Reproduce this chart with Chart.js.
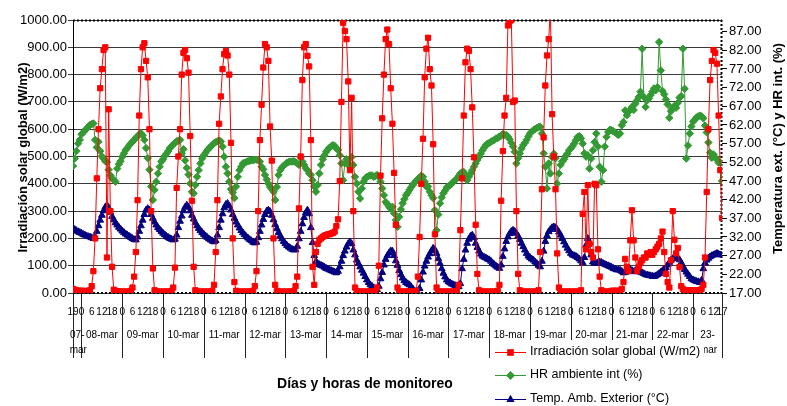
<!DOCTYPE html>
<html><head><meta charset="utf-8">
<script src="https://cdn.jsdelivr.net/npm/chart.js@4"></script>
<style>html,body{margin:0;padding:0;background:#fff}canvas{display:block}</style>
</head><body>
<canvas id="c" width="787" height="406"></canvas>
<script>
// ---- data (hourly, from 07-mar 19h to 23-mar 17h) ----
const days = ['07-mar','08-mar','09-mar','10-mar','11-mar','12-mar','13-mar','14-mar','15-mar','16-mar','17-mar','18-mar','19-mar','20-mar','21-mar','22-mar','23-mar'];
const firstHour = 19;
const rightTicks = [17,22,27,32,37,42,47,52,57,62,67,72,77,82,87];
const seriesNames = ['Irradiación solar global (W/m2)','HR ambiente int (%)','Temp. Amb. Exterior (°C)'];

const irradiacion = [
 15,12,10,8,8,
 8,8,6,6,8,10,25,80,200,420,600,750,820,890,900,130,673,300,96,12,8,6,6,5,
 5,5,5,5,5,8,20,60,150,340,650,820,900,915,850,790,600,300,90,10,6,5,5,5,
 5,5,5,5,5,8,20,93,385,500,600,800,880,890,860,807,575,338,96,10,5,5,5,5,
 5,5,5,5,5,8,30,150,340,620,720,820,875,887,870,800,550,200,40,8,5,5,5,5,
 5,5,5,5,5,8,25,80,300,560,690,826,912,900,850,610,485,200,30,8,5,5,5,5,
 5,5,5,5,5,8,25,60,310,500,780,900,912,869,830,560,96,30,150,180,195,200,205,210,
 212,215,215,218,220,225,245,270,410,700,990,960,930,775,450,715,300,20,8,5,5,5,5,5,
 5,5,5,5,5,8,20,100,430,640,800,930,965,912,750,620,440,250,20,5,5,5,5,5,
 5,5,5,5,5,8,60,205,400,565,790,895,935,820,760,545,215,20,5,5,5,5,5,5,
 5,5,5,5,5,8,30,230,420,650,845,895,887,820,680,497,250,70,10,5,5,5,5,5,
 5,5,5,5,5,8,30,338,520,650,715,980,995,1000,700,705,300,70,10,5,5,5,5,5,
 5,5,5,5,5,10,150,380,570,760,870,930,1040,655,500,380,145,20,5,5,5,5,5,5,
 5,5,5,5,5,5,10,290,370,160,395,180,150,130,400,395,160,60,10,5,5,5,5,5,
 8,8,8,8,8,8,15,40,125,96,80,193,303,193,130,80,96,110,120,130,130,145,140,150,
 140,150,160,170,180,200,225,150,70,40,20,120,300,195,145,165,95,25,15,10,10,10,10,10,
 10,10,10,10,10,15,30,130,370,600,780,850,890,880,840,650,450,275
];

const hrInt = [
 51,53,55,57,58,
 59.5,60,60.5,61,61.5,62,62.2,62.4,58,56,57.5,55,53.6,53,52.3,52,50,48.5,47.7,47.2,46.8,50.3,51.5,52.3,
 53.5,54.4,55.3,55.8,56.5,57,57.5,58,58.6,59,59.5,59.8,59.2,58,55.8,53.1,50,45.5,41.9,44.6,46.8,49,50.8,52.2,
 52.8,53.7,54.3,55,55.8,56.3,56.8,57.2,57.6,57.8,58,54.4,55.5,52.5,50.5,48.7,46.3,44.1,43.7,45.9,48.1,49.9,51.7,53,
 53.9,54.5,55.2,55.7,56.2,56.6,57.1,57.4,57.6,57.8,57.6,56.2,53.5,50.8,49,46.8,44.8,43.9,42.4,45.5,48.1,49.9,50.8,51.7,
 51.9,52.1,52.3,52.4,52.5,52.6,52.7,52.7,52.6,52.2,50.8,50.1,48.6,47.4,46.3,45.4,44.8,44.1,41.9,45.4,48.6,49.9,50.6,51.1,
 51.5,51.9,52.1,52.2,52.2,52.3,52,51.7,51.3,53.4,52.2,51.3,50.4,49.9,49,48.6,47.2,45.5,44.1,45.9,49,51.3,52.8,53.9,
 54.8,55.4,55.9,56.3,56.6,56.4,55.7,55.3,53.9,51.7,47.2,51.7,52.8,51.9,50.8,53.4,51.3,48.1,46.3,44.1,42.3,45,46.8,47.7,
 48.1,48.3,48.5,48.5,48.1,48.3,48.6,48.1,46.8,45,43.2,41.4,40.8,40.1,39.6,40.1,38.3,36.5,34.7,37.4,39.4,41,42.1,43.2,
 43.8,44.6,45.3,45.9,46.5,47,47.5,47.9,48.4,48.1,46.8,45.5,45.5,44.1,43.2,42.4,39.2,33.8,38,41,42.6,43.7,44.4,45.3,
 45.6,45.9,46.3,46.8,47.2,47.7,48.3,49,49.3,49.4,48.3,47.2,48.1,49,49.9,50.8,51.7,52.6,53.4,54.3,55.2,55.9,56.6,57,
 57.2,57.5,57.8,58,58.4,58.5,58.9,59.1,59.6,59.3,59.3,58.9,58.2,57.2,56.2,54.8,51.7,53.1,54.4,55.7,56.6,57.2,58,58.9,
 59.7,60.2,60.6,60.9,61.2,61.4,61.5,59.7,54.4,50.8,45,51.7,49,53.4,54.3,53.1,46.3,49,51.3,52.2,52.8,53.7,54.3,55.2,
 55.7,56.3,57,57.9,58.8,59,58.4,57,54.4,53.5,53.9,50.3,53,55.2,57.4,59.7,56.2,50.8,46.8,49.9,56.2,58.8,60.1,60.7,
 60.6,60.3,60,59.7,59.3,59.7,61.9,62.8,65.9,64.6,65.5,66,66.8,66,67.7,68.6,69.5,70.9,82.4,69.5,66.8,68.6,69.1,70,
 70.9,71.8,71.3,72.1,84.2,76.6,71.1,70.2,68.8,67.5,63.9,65.7,66.6,67.1,66.6,67.9,69.3,69.7,82.4,71.7,53,56.5,59.7,61.6,
 62.9,63.4,64,64.3,64.5,64.3,63.8,61.8,60,57.3,54.6,53.2,54.1,53.2,52.8,51.9,51.9,47
];

const tempExt = [
 34.3,34,33.7,33.4,33.2,
 33,32.7,32.5,32.3,32.1,32,31.8,31.6,32,33.5,35,36.5,37.8,39,40,40.5,39.8,38.6,37.5,36.6,35.8,35.2,34.6,34.1,
 33.6,33.2,32.8,32.5,32.2,31.9,31.6,31.3,31.2,32,33.5,35,36.5,38,39.2,39.6,39.2,38,37,36,35.2,34.5,34,33.5,
 33,32.6,32.2,31.9,31.6,31.4,31.2,31.4,32.5,34.5,36.2,37.6,39,40,40.5,40,39,37.8,36.8,35.8,35,34.3,33.7,33.2,
 32.7,32.3,31.9,31.5,31.2,30.9,30.7,31,32.5,34.5,36.5,38.2,39.8,40.7,41,40.3,39.2,38,37,36,35.2,34.4,33.7,33.1,
 32.6,32.1,31.7,31.3,31,30.6,30.4,30.6,31.8,33.5,35.2,36.7,38,38.9,39.2,38.8,37.8,36.6,35.3,34.2,33.2,32.3,31.5,30.8,
 30.2,29.7,29.3,29,28.7,28.5,28.6,29.5,31.5,33.5,35.5,37.2,38.5,39.2,38.2,34.5,30.5,27,25.4,24.9,24.6,24.4,24.2,23.9,
 23.6,23.4,23.2,23,22.8,22.6,22.4,22.8,24,25.5,27,28.2,29.3,30.2,30.7,30.2,28.5,27.2,25.8,24.9,24,23.1,22.3,21.4,
 20.5,19.8,19.2,18.8,18.4,18.1,17.9,18.8,20.8,22.5,24.5,26,27,27.7,28.3,28.2,27,25.6,24.4,23,21.9,21,20.3,19.8,
 19.5,19.2,18.7,18.1,17.6,17.1,17,18.2,20.5,22.6,24.2,25.5,26.6,27.5,28.3,29,28.6,27.6,26.2,24.9,23.5,22.3,21.3,20.5,
 20,19.7,19.4,19.2,19,18.8,18.7,19.5,23.5,26,28.5,30.3,31.4,32.2,32.5,31.8,30.3,29.2,28.2,27.4,26.9,26.6,26.4,26.1,
 25.9,25.5,25,24.6,24.2,23.9,23.6,24.5,26.8,28.8,30.8,32,32.9,33.5,33.8,33.5,33,32.2,31.3,30.3,29.4,28.5,27.6,26.9,
 26.5,26.1,25.8,25.3,24.9,24.4,24,25.5,28.2,30.8,32.3,33.4,34,34.5,34.7,34.5,34,33.3,32.5,31.6,30.7,29.8,29,28.3,
 27.6,27.2,27,26.8,26.5,26.1,25.6,25.1,26.5,29.8,31.6,30.5,27.2,25.3,25,24.9,25.1,25.3,25.2,24.9,24.7,24.5,24.3,24.1,
 23.9,23.6,23.4,23.2,23.2,23.1,22.8,22.4,22.5,22.8,23.1,23.3,23,22.7,23,23.2,22.9,22.6,22.4,22.2,21.9,21.8,21.7,21.6,
 21.5,21.4,21.6,21.9,22.2,22.6,23,23.4,23.8,24.5,25.2,25.8,26.2,26.5,26.7,26.4,25.9,25.1,24.2,23.3,22.6,22,21.4,20.8,
 20.5,20.3,20.1,20,19.8,20.4,23.5,25,25.8,26.3,26.7,27,27.2,27.4,27.6,27.4,27.2,27.2
];

// ---- helpers ----
const FONT = "'Liberation Sans', Arial, sans-serif";
const N = irradiacion.length;
const hourOf = i => (firstHour + i) % 24;
const xTicks = [];
for (let i = 0; i < N; i++) if (i === 0 || i === N - 1 || hourOf(i) % 6 === 0) xTicks.push(i);
const bounds = [0];
for (let i = 1; i < N; i++) if (hourOf(i) === 0) bounds.push(i);
bounds.push(N - 1);
const pts = arr => arr.map((v, i) => ({x: i, y: v}));

const colors = {red: '#ff0000', green: '#339933', blue: '#000080'};

function drawMarker(ctx, style, x, y, r, color) {
  ctx.fillStyle = color; ctx.beginPath();
  if (style === 'rect') { const s = r * Math.SQRT1_2 + 0.5; ctx.rect(x - s, y - s, 2 * s, 2 * s); }
  else if (style === 'rectRot') { const s = r + 0.5; ctx.moveTo(x, y - s); ctx.lineTo(x + s, y); ctx.lineTo(x, y + s); ctx.lineTo(x - s, y); ctx.closePath(); }
  else { const s = r + 0.8; ctx.moveTo(x, y - s); ctx.lineTo(x + s * 0.866, y + s * 0.5); ctx.lineTo(x - s * 0.866, y + s * 0.5); ctx.closePath(); }
  ctx.fill();
}

const decor = {
  id: 'decor',
  beforeDatasetsDraw(chart) {
    const {ctx, chartArea: a} = chart;
    ctx.save();
    ctx.strokeStyle = '#000'; ctx.lineWidth = 2; ctx.setLineDash([2, 2]);
    ctx.beginPath();
    ctx.moveTo(a.left, a.top + 0.5); ctx.lineTo(a.right, a.top + 0.5);
    ctx.moveTo(a.right - 0.5, a.top); ctx.lineTo(a.right - 0.5, a.bottom);
    ctx.moveTo(a.left, a.bottom); ctx.lineTo(a.right, a.bottom);
    ctx.stroke();
    ctx.setLineDash([]); ctx.lineWidth = 1;
    ctx.beginPath(); ctx.moveTo(a.left + 0.5, a.top); ctx.lineTo(a.left + 0.5, a.bottom); ctx.stroke();
    ctx.restore();
  },
  afterDraw(chart) {
    const {ctx, chartArea: a, scales: {x}} = chart;
    ctx.save();
    // day separators below the axis
    ctx.strokeStyle = '#222'; ctx.lineWidth = 1;
    ctx.beginPath();
    bounds.forEach(b => { const px = Math.round(x.getPixelForValue(b)) + 0.5; ctx.moveTo(px, a.bottom); ctx.lineTo(px, a.bottom + 65); });
    ctx.stroke();
    // day labels
    ctx.fillStyle = '#000'; ctx.font = '10px ' + FONT; ctx.textAlign = 'center'; ctx.textBaseline = 'middle';
    for (let d = 0; d < days.length; d++) {
      const cx = (x.getPixelForValue(bounds[d]) + x.getPixelForValue(bounds[d + 1])) / 2;
      if (bounds[d + 1] - bounds[d] < 24) {
        const parts = days[d].split('-');
        ctx.fillText(parts[0] + '-', cx, a.bottom + 42);
        ctx.fillText(parts[1], cx + 1, a.bottom + 57);
      } else ctx.fillText(days[d], cx, a.bottom + 42);
    }
    // axis titles
    ctx.font = 'bold 13px ' + FONT;
    ctx.save(); ctx.translate(23, (a.top + a.bottom) / 2 + 1); ctx.rotate(-Math.PI / 2); ctx.fillText('Irradiación solar global (W/m2)', 0, 0); ctx.restore();
    ctx.save(); ctx.translate(778, (a.top + a.bottom) / 2 - 8); ctx.rotate(-Math.PI / 2); ctx.fillText('Temperatura ext. (°C) y HR int. (%)', 0, 0); ctx.restore();
    ctx.font = 'bold 14px ' + FONT;
    ctx.fillText('Días y horas de monitoreo', 365, 384);
    // legend
    ctx.fillStyle = '#fff'; ctx.fillRect(493, 340, 211, 66);
    const ly = [352, 375, 399];
    chart.data.datasets.forEach((ds, i) => {
      ctx.strokeStyle = ds.borderColor; ctx.lineWidth = 1;
      ctx.beginPath(); ctx.moveTo(495, ly[i] + 0.5); ctx.lineTo(526, ly[i] + 0.5); ctx.stroke();
      drawMarker(ctx, ds.pointStyle, 510.5, ly[i] + 0.5, 4, ds.backgroundColor);
      ctx.fillStyle = '#000'; ctx.font = '12.5px ' + FONT; ctx.textAlign = 'left';
      ctx.fillText(ds.label, 530, ly[i]);
    });
    ctx.restore();
  }
};

new Chart(document.getElementById('c'), {
  type: 'line',
  data: {
    datasets: [
      {label: seriesNames[0], data: pts(irradiacion), yAxisID: 'y', borderColor: colors.red, backgroundColor: colors.red,
       borderWidth: 1, pointStyle: 'rect', pointRadius: 3.7, pointBorderWidth: 1, tension: 0},
      {label: seriesNames[1], data: pts(hrInt), yAxisID: 'y1', borderColor: colors.green, backgroundColor: colors.green,
       borderWidth: 1, pointStyle: 'rectRot', pointRadius: 3.7, pointBorderWidth: 1, tension: 0},
      {label: seriesNames[2], data: pts(tempExt), yAxisID: 'y1', borderColor: colors.blue, backgroundColor: colors.blue,
       borderWidth: 1, pointStyle: 'triangle', pointRadius: 3.9, pointBorderWidth: 1, tension: 0}
    ]
  },
  options: {
    responsive: false, animation: false, devicePixelRatio: 1,
    layout: {padding: {top: 20, left: 0, right: 0, bottom: 0}},
    plugins: {legend: {display: false}, tooltip: {enabled: false}},
    scales: {
      x: {
        type: 'linear', min: 0, max: N - 1, position: 'bottom',
        afterFit(s) { s.height = 113; },
        afterBuildTicks(s) { s.ticks = xTicks.map(v => ({value: v})); },
        grid: {display: false, drawTicks: false},
        border: {display: false},
        ticks: {autoSkip: false, maxRotation: 0, minRotation: 0, padding: 13, color: '#000',
                font: {family: FONT, size: 10},
                callback: v => String(hourOf(v))}
      },
      y: {
        position: 'left', min: 0, max: 1000,
        afterFit(s) { s.width = 73; },
        border: {display: false},
        grid: {color: '#3a3a3a', lineWidth: 1, tickLength: 5},
        ticks: {stepSize: 100, padding: 1, color: '#000', font: {family: FONT, size: 13}, callback: v => v.toFixed(2)}
      },
      y1: {
        position: 'right', min: 17, max: 90.1,
        afterFit(s) { s.width = 65; },
        afterBuildTicks(s) { s.ticks = rightTicks.map(v => ({value: v})); },
        border: {display: false},
        grid: {drawOnChartArea: false, color: '#000', tickLength: 5},
        ticks: {padding: 2, color: '#000', font: {family: FONT, size: 13}, callback: v => v.toFixed(2)}
      }
    }
  },
  plugins: [decor]
});
</script>
</body></html>
